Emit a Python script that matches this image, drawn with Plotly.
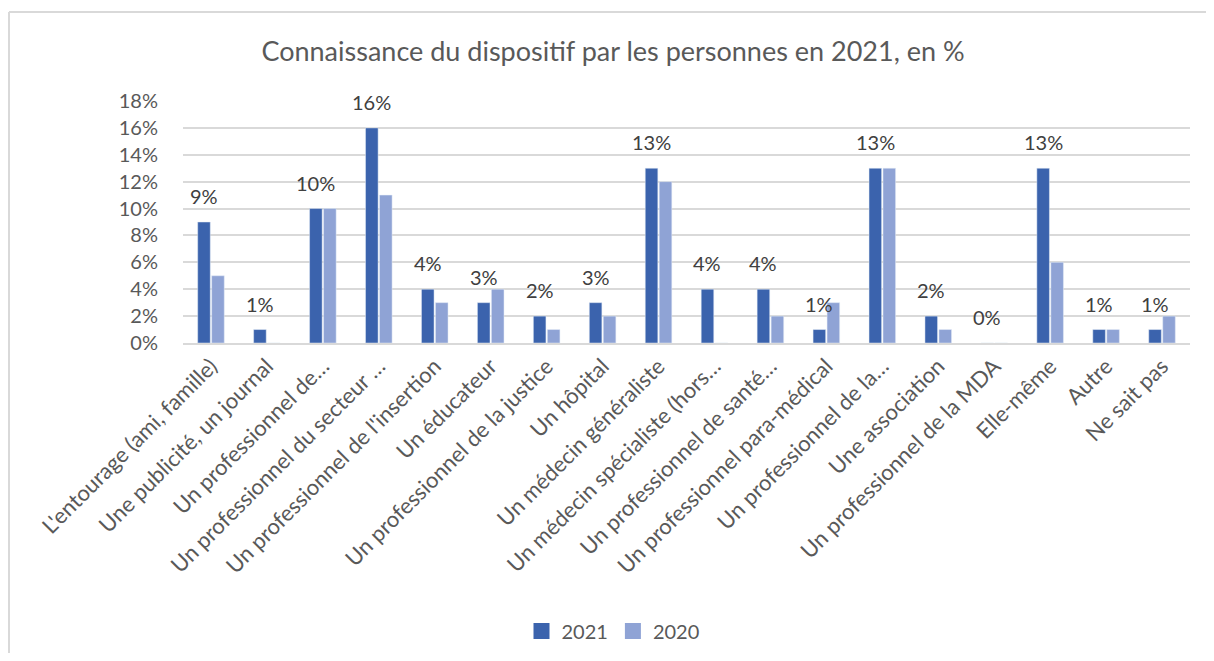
import plotly.graph_objects as go

categories = [
    "L'entourage (ami, famille)",
    "Une publicité, un journal",
    "Un professionnel de…",
    "Un professionnel du secteur …",
    "Un professionnel de l'insertion",
    "Un éducateur",
    "Un professionnel de la justice",
    "Un hôpital",
    "Un médecin généraliste",
    "Un médecin spécialiste (hors…",
    "Un professionnel de santé…",
    "Un professionnel para-médical",
    "Un professionnel de la…",
    "Une association",
    "Un professionnel de la MDA",
    "Elle-même",
    "Autre",
    "Ne sait pas",
]
values_2021 = [9, 1, 10, 16, 4, 3, 2, 3, 13, 4, 4, 1, 13, 2, 0, 13, 1, 1]
values_2020 = [5, 0, 10, 11, 3, 4, 1, 2, 12, 0, 2, 3, 13, 1, 0, 6, 1, 2]
y_ticks = [0, 2, 4, 6, 8, 10, 12, 14, 16, 18]

FONT = "Lato"
GREY = "#595959"
C2021 = "#3B63AD"
C2020 = "#8FA3D5"

# la page a une marge de 8 px : figure 1198x645 pour éviter les barres de défilement
W, H = 1198, 645
L, T, R, B = 175, 93, 16, 310
PW, PH = W - L - R, H - T - B

# barres
fig = go.Figure()
fig.add_trace(go.Bar(x=categories, y=values_2021, name="2021",
                     marker=dict(color=C2021), hoverinfo="skip", showlegend=False))
fig.add_trace(go.Bar(x=categories, y=values_2020, name="2020",
                     marker=dict(color=C2020), hoverinfo="skip", showlegend=False))

# légende : carrés plus grands
for name, col in [("2021", C2021), ("2020", C2020)]:
    fig.add_trace(go.Scatter(x=[None], y=[None], mode="markers", name=name,
                             marker=dict(symbol="square", size=16, color=col)))

# étiquettes au-dessus des barres 2021
for i, v in enumerate(values_2021):
    fig.add_annotation(x=i, y=v, xref="x", yref="y", text=f"{v}%",
                       showarrow=False, xshift=-7, yshift=26,
                       font=dict(family=FONT, size=20, color="#404040"))

# cadre (bords gauche et haut seulement)
x_left = (1 - L) / PW
y_top = 1 + (T - 4) / PH
for x0, y0, x1, y1 in [(x_left, -1.4, x_left, y_top), (x_left, y_top, 1.1, y_top)]:
    fig.add_shape(type="line", xref="paper", yref="paper",
                  x0=x0, y0=y0, x1=x1, y1=y1,
                  line=dict(color="#d9d9d9", width=2), layer="below")

fig.update_layout(
    width=W, height=H,
    margin=dict(l=L, r=R, t=T, b=B, autoexpand=False),
    paper_bgcolor="white", plot_bgcolor="white",
    title=dict(text="Connaissance du dispositif par les personnes en 2021, en %",
               x=605 / W, xanchor="center", y=1 - 44 / H, yanchor="middle",
               font=dict(family=FONT, size=27, color=GREY)),
    barmode="group", bargap=0.5, bargroupgap=0.1,
    showlegend=True,
    legend=dict(orientation="h", x=(605 - L) / PW, xanchor="center",
                y=-(631 - 8 - (T + PH)) / PH, yanchor="middle",
                font=dict(family=FONT, size=20, color=GREY),
                itemsizing="trace", itemwidth=30, traceorder="normal"),
    font=dict(family=FONT, color=GREY),
)
fig.update_xaxes(tickangle=-45, tickfont=dict(family=FONT, size=22, color=GREY),
                 showline=True, linecolor="#d9d9d9", linewidth=1.5,
                 ticks="", showgrid=False)
fig.update_yaxes(range=[0, 18], tickvals=y_ticks,
                 ticktext=[f"{t}%" for t in y_ticks],
                 tickfont=dict(family=FONT, size=20, color=GREY),
                 showgrid=True, gridcolor="#d9d9d9", gridwidth=1.5,
                 zeroline=False, ticklen=20, ticks="outside", tickcolor="white")

fig.write_html("out.html")
